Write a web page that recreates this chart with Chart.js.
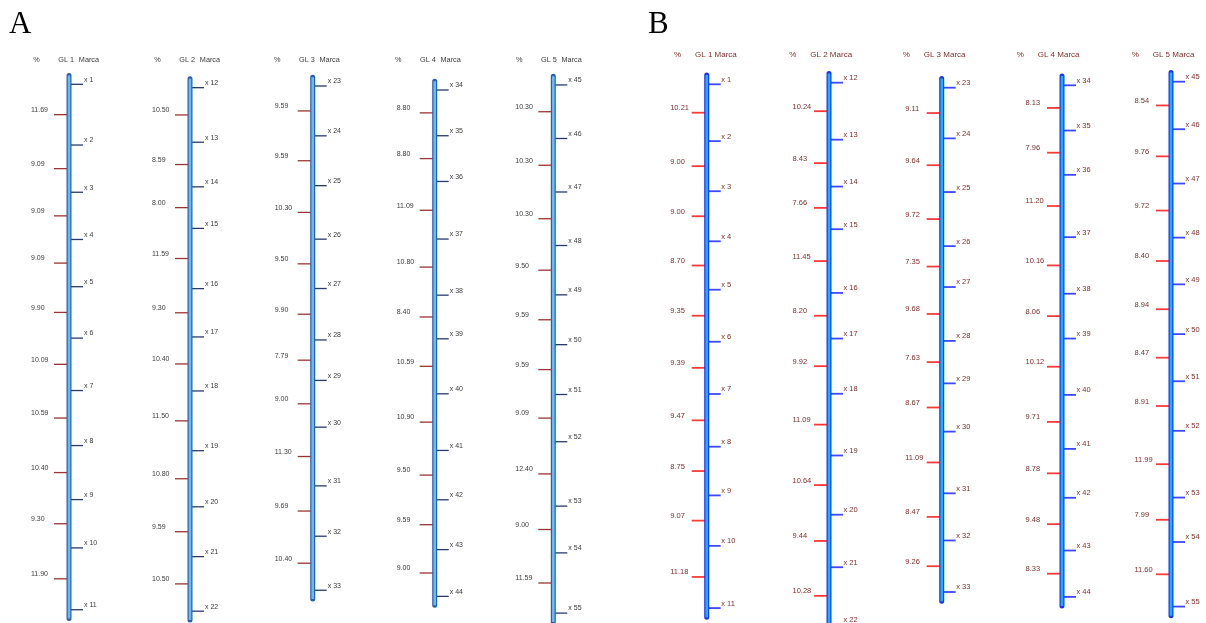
<!DOCTYPE html>
<html>
<head>
<meta charset="utf-8">
<script src="https://cdn.jsdelivr.net/npm/chart.js@4.4.1/dist/chart.umd.min.js"></script>
<style>
  html, body { margin: 0; padding: 0; background: #fff; }
  #wrap { position: relative; width: 1206px; height: 623px; overflow: hidden; }
  #map { position: absolute; left: 0; top: 0; }
  .panel { position: absolute; font-family: "Liberation Serif", "Times New Roman", serif;
           font-size: 31px; line-height: 1; color: #000; }
</style>
</head>
<body>
<div id="wrap">
  <canvas id="map" width="1206" height="623"></canvas>
  <div class="panel" style="left:9px;top:7px">A</div>
  <div class="panel" style="left:648px;top:7px">B</div>
</div>
<script>
// ---- Linkage groups, panel A: recombination % between adjacent markers ----
const groupNames = ['GL 1', 'GL 2', 'GL 3', 'GL 4', 'GL 5'];
const a_gl1 = [11.69, 9.09, 9.09, 9.09, 9.90, 10.09, 10.59, 10.40, 9.30, 11.90];
const a_gl2 = [10.50, 8.59, 8.00, 11.59, 9.30, 10.40, 11.50, 10.80, 9.59, 10.50];
const a_gl3 = [9.59, 9.59, 10.30, 9.50, 9.90, 7.79, 9.00, 11.30, 9.69, 10.40];
const a_gl4 = [8.80, 8.80, 11.09, 10.80, 8.40, 10.59, 10.90, 9.50, 9.59, 9.00];
const a_gl5 = [10.30, 10.30, 10.30, 9.50, 9.59, 9.59, 9.09, 12.40, 9.00, 11.59];
// position (cM) of the first marker of each group
const a_first = [0, 0.65, 0.33, 1.10, 0.13];

// ---- Linkage groups, panel B ----
const b_gl1 = [10.21, 9.00, 9.00, 8.70, 9.35, 9.39, 9.47, 8.75, 9.07, 11.18];
const b_gl2 = [10.24, 8.43, 7.66, 11.45, 8.20, 9.92, 11.09, 10.64, 9.44, 10.28];
const b_gl3 = [9.11, 9.64, 9.72, 7.35, 9.68, 7.63, 8.67, 11.09, 8.47, 9.26];
const b_gl4 = [8.13, 7.96, 11.20, 10.16, 8.06, 10.12, 9.71, 8.78, 9.48, 8.33];
const b_gl5 = [8.54, 9.76, 9.72, 8.40, 8.94, 8.47, 8.91, 11.99, 7.99, 11.60];
const b_first = [0, -0.29, 0.61, 0.18, -0.47];

// first marker number of each group (x 1, x 12, ...)
const markerStart = [1, 12, 23, 34, 45];

// ---- layout (canvas pixels) ----
const W = 1206, H = 623;
const panels = [
  {
    key: 'A', axis: 'yA', groups: [a_gl1, a_gl2, a_gl3, a_gl4, a_gl5], first: a_first,
    pxPerUnit: 5.195, zeroPx: 84.3,
    barX: [69, 190, 312.7, 434.7, 553.3],
    headX: [33.3, 154.3, 274, 395, 516], headY: 60,
    ext: 1.7, tickR: 7, tickW: 1.3, markDx: 8, pctDx: -30.5, labelDy: -4.6,
    barEdge: '#2a5fae', barFill: '#66bbf2',
    markColor: '#2c3a68', pctColor: '#9b3434',
    textColor: '#3c3c3c', font: '7px "Liberation Sans", Arial, sans-serif',
    headFont: '7.3px "Liberation Sans", Arial, sans-serif', headStyle: 'split'
  },
  {
    key: 'B', axis: 'yB', groups: [b_gl1, b_gl2, b_gl3, b_gl4, b_gl5], first: b_first,
    pxPerUnit: 5.565, zeroPx: 84.3,
    barX: [706.7, 829, 941.7, 1062, 1171],
    headX: [674, 789.3, 902.7, 1016.7, 1131.7], headY: 54.5,
    ext: 1.65, tickR: 7, tickW: 1.8, markDx: 7.5, pctDx: -29, labelDy: -4.6,
    barEdge: '#1a36f0', barFill: '#1cb0ff',
    markColor: '#4048ff', pctColor: '#ff3a3a',
    textColor: '#7d3030', font: '7.5px "Liberation Sans", Arial, sans-serif',
    headFont: '8px "Liberation Sans", Arial, sans-serif', headStyle: 'joined'
  }
];

function cumulative(first, dists) {
  const p = [first];
  dists.forEach(d => p.push(p[p.length - 1] + d));
  return p;
}

const datasets = [];
panels.forEach(P => {
  P.groups.forEach((dists, g) => {
    const pos = cumulative(P.first[g], dists);
    const cx = P.barX[g];
    const top = pos[0] - P.ext, bot = pos[pos.length - 1] + P.ext;
    // chromosome bar: dark outline with rounded ends, light core on top
    datasets.push({
      type: 'scatter', showLine: true, yAxisID: P.axis, order: 1,
      data: [{ x: cx, y: top }, { x: cx, y: bot }],
      borderColor: P.barEdge, borderWidth: 5, borderCapStyle: 'round',
      pointRadius: 0, clip: false
    });
    datasets.push({
      type: 'scatter', showLine: true, yAxisID: P.axis, order: 0,
      data: [{ x: cx, y: top }, { x: cx, y: bot }],
      borderColor: P.barFill, borderWidth: 2.6, borderCapStyle: 'butt',
      pointRadius: 0, clip: false
    });
    // marker ticks on the right
    datasets.push({
      type: 'scatter', yAxisID: P.axis, order: 2,
      data: pos.map(v => ({ x: cx + P.tickR, y: v })),
      pointStyle: 'line', pointRadius: P.tickR, pointBorderWidth: P.tickW,
      pointBorderColor: P.markColor, pointBackgroundColor: P.markColor,
      pointLabels: pos.map((v, i) => 'x ' + (markerStart[g] + i)),
      labelDx: P.markDx, labelDy: P.labelDy, labelFont: P.font, labelColor: P.textColor,
      clip: false
    });
    // interval ticks on the left with the % between neighbours
    const mids = dists.map((d, i) => (pos[i] + pos[i + 1]) / 2);
    datasets.push({
      type: 'scatter', yAxisID: P.axis, order: 2,
      data: mids.map(v => ({ x: cx - P.tickR - 0.5, y: v })),
      pointStyle: 'line', pointRadius: P.tickR + 0.5, pointBorderWidth: P.tickW,
      pointBorderColor: P.pctColor, pointBackgroundColor: P.pctColor,
      pointLabels: dists.map(d => d.toFixed(2)),
      labelDx: P.pctDx, labelDy: P.labelDy, labelFont: P.font, labelColor: P.textColor,
      clip: false
    });
  });
});

const markLabels = {
  id: 'markLabels',
  afterDatasetsDraw(chart) {
    const ctx = chart.ctx;
    chart.data.datasets.forEach((ds, i) => {
      if (!ds.pointLabels) return;
      const meta = chart.getDatasetMeta(i);
      ctx.save();
      ctx.font = ds.labelFont;
      ctx.fillStyle = ds.labelColor;
      ctx.textAlign = 'left';
      ctx.textBaseline = 'middle';
      meta.data.forEach((el, j) => {
        ctx.fillText(ds.pointLabels[j], el.x + ds.labelDx, el.y + ds.labelDy);
      });
      ctx.restore();
    });
  }
};

const groupHeaders = {
  id: 'groupHeaders',
  afterDraw(chart) {
    const ctx = chart.ctx, xs = chart.scales.x;
    panels.forEach(P => {
      ctx.save();
      ctx.font = P.headFont;
      ctx.fillStyle = P.textColor;
      ctx.textBaseline = 'middle';
      ctx.textAlign = 'left';
      groupNames.forEach((name, g) => {
        const x0 = xs.getPixelForValue(P.headX[g]);
        ctx.fillText('%', x0, P.headY);
        if (P.headStyle === 'split') {
          ctx.fillText(name, x0 + 25, P.headY);
          ctx.fillText('Marca', x0 + 45.5, P.headY);
        } else {
          ctx.fillText(name + ' Marca', x0 + 21, P.headY);
        }
      });
      ctx.restore();
    });
  }
};

const yScale = P => ({
  type: 'linear', display: false, reverse: true, bounds: 'data',
  min: -P.zeroPx / P.pxPerUnit, max: (H - P.zeroPx) / P.pxPerUnit
});

new Chart(document.getElementById('map'), {
  type: 'scatter',
  data: { datasets },
  options: {
    responsive: false, animation: false, devicePixelRatio: 1, events: [],
    layout: { padding: 0, autoPadding: false },
    plugins: { legend: { display: false }, tooltip: { enabled: false } },
    scales: {
      x: { type: 'linear', display: false, min: 0, max: W, bounds: 'data' },
      yA: yScale(panels[0]),
      yB: yScale(panels[1])
    }
  },
  plugins: [markLabels, groupHeaders]
});
</script>
</body>
</html>
